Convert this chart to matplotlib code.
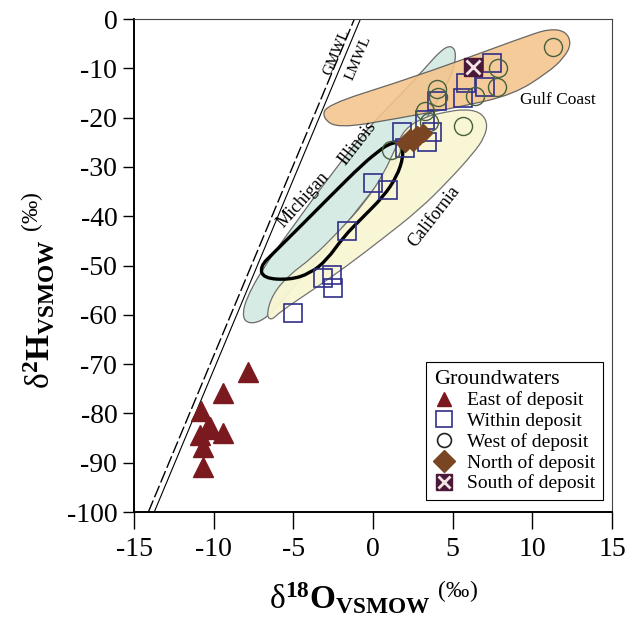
import numpy as np
import matplotlib.pyplot as plt
from matplotlib.path import Path
from matplotlib.patches import PathPatch
from matplotlib.lines import Line2D

plt.rcParams['font.family'] = 'Liberation Serif'
plt.rcParams['mathtext.fontset'] = 'custom'
plt.rcParams['mathtext.rm'] = 'Liberation Serif'
plt.rcParams['mathtext.it'] = 'Liberation Serif:italic'
plt.rcParams['mathtext.bf'] = 'Liberation Serif:bold'
plt.rcParams['axes.unicode_minus'] = False

# groundwater samples: d18O, d2H (permil VSMOW)
east_d18o = [-7.86, -9.39, -10.79, -10.40, -10.86, -9.39, -10.69, -10.65, -10.23]
east_d2h = [-71.5, -75.9, -79.5, -83.2, -84.4, -84.0, -86.8, -90.8, -82.7]

within_d18o = [7.45, 5.84, 7.03, 5.67, 4.04, 3.27, 3.69, 1.80, 2.01, 3.37,
               0.02, 0.96, -1.65, -3.12, -2.59, -2.49, -5.00]
within_d2h = [-9.0, -13.0, -13.7, -16.1, -16.6, -20.5, -22.9, -22.9, -26.2, -24.9,
              -33.2, -34.7, -42.9, -52.6, -51.9, -54.6, -59.7]

west_d18o = [11.32, 7.87, 7.77, 6.41, 4.00, 4.10, 3.27, 3.54, 5.67, 1.11]
west_d2h = [-5.6, -10.0, -13.7, -15.6, -14.1, -15.8, -18.6, -20.8, -21.8, -26.6]

north_d18o = [2.01, 2.33, 2.77, 3.14, 2.52]
north_d2h = [-25.2, -24.1, -23.5, -23.1, -24.9]

south_d18o = [6.26]
south_d2h = [-9.7]

# meteoric water lines, end points on the plot frame
gmwl_d18o = [-14.10, -1.17]
gmwl_d2h = [-100, 0]
lmwl_d18o = [-13.73, -0.79]
lmwl_d2h = [-100, 0]

# outlines of the regional groundwater fields
gulf_d18o = [-3.2, -2.9, 1.49, 5.67, 9.86, 11.11, 12.1, 12.45, 12.0, 11.0,
             8.81, 5.65, 1.49, -2.2]
gulf_d2h = [-20.0, -17.4, -12.9, -8.2, -3.2, -2.0, -2.5, -5.0, -7.8, -10.8,
            -15.3, -17.7, -20.2, -22.2]

illinois_d18o = [-8.2, -8.0, -7.0, -5.3, -2.8, -0.3, 1.6, 3.2, 4.3, 4.95,
                 5.25, 4.9, 3.7, 2.0, -0.5, -3.0, -4.9, -6.2, -7.0, -7.8]
illinois_d2h = [-60.5, -57.0, -51.0, -43.3, -32.2, -22.0, -15.8, -10.2, -6.2, -5.3,
                -7.2, -11.8, -18.5, -26.6, -36.7, -46.9, -54.0, -59.0, -61.3, -61.8]

california_d18o = [-6.7, -6.3, -5.3, -3.8, -2.1, -0.5, 0.7, 1.4, 2.0, 3.27,
                   4.52, 5.65, 6.7, 7.2, 7.0, 6.3, 4.8, 2.9, 0.5, -1.6,
                   -3.8, -5.8, -6.4]
california_d2h = [-60.0, -55.8, -52.0, -48.4, -42.9, -37.2, -31.2, -26.2, -22.2, -19.8,
                  -18.9, -18.3, -18.8, -21.0, -24.0, -27.2, -32.6, -38.7, -44.8, -50.0,
                  -55.0, -59.3, -61.2]

michigan_d18o = [0.86, 1.49, 1.80, 1.91, 1.49, 0.65, -0.61, -1.86, -2.90, -3.95,
                 -5.21, -6.88, -7.09, -6.26, -4.79, -2.70, -0.61, 0.44]
michigan_d2h = [-25.6, -24.9, -25.6, -27.9, -32.0, -36.0, -40.1, -44.2, -48.9, -51.6,
                -52.9, -52.6, -50.2, -47.5, -42.8, -36.0, -29.3, -26.6]


def smooth_outline(xs, ys):
    # closed quadratic bezier through the midpoints of the traced outline
    pts = np.column_stack([xs, ys])
    mids = (pts + np.roll(pts, -1, axis=0)) / 2
    verts = [mids[-1]]
    codes = [Path.MOVETO]
    for i in range(len(pts)):
        verts += [pts[i], mids[i]]
        codes += [Path.CURVE3, Path.CURVE3]
    return Path(verts, codes)


fig = plt.figure(figsize=(6.37, 6.26), dpi=100)
ax = fig.add_axes([0.2104, 0.1821, 0.7504, 0.7875])

ax.add_patch(PathPatch(smooth_outline(illinois_d18o, illinois_d2h),
                       facecolor='#d5ebe4', edgecolor='#6b6b6b', lw=0.9, zorder=1))
ax.add_patch(PathPatch(smooth_outline(california_d18o, california_d2h),
                       facecolor='#f8f6d3', edgecolor='#6b6b6b', lw=0.9, alpha=0.95, zorder=1.1))
ax.add_patch(PathPatch(smooth_outline(gulf_d18o, gulf_d2h),
                       facecolor='#f4c48c', edgecolor='#555555', lw=0.9, alpha=0.88, zorder=1.2))
ax.add_patch(PathPatch(smooth_outline(michigan_d18o, michigan_d2h),
                       facecolor='none', edgecolor='black', lw=2.4, zorder=1.3))

ax.plot(gmwl_d18o, gmwl_d2h, color='black', lw=1.0, ls=(0, (9, 2.5)), zorder=1.5)
ax.plot(lmwl_d18o, lmwl_d2h, color='black', lw=0.8, zorder=1.5)

ax.text(-2.3, -6.8, 'GMWL', rotation=67, fontsize=11, ha='center', va='center')
ax.text(-0.9, -8.0, 'LMWL', rotation=67, fontsize=11, ha='center', va='center')
ax.text(9.2, -16.4, 'Gulf Coast', fontsize=12.5, ha='left', va='center')
ax.text(-1.0, -25.2, 'Illinois', rotation=52, fontsize=13, ha='center', va='center')
ax.text(-4.4, -36.7, 'Michigan', rotation=48, fontsize=13, ha='center', va='center')
ax.text(3.8, -40.1, 'California', rotation=52, fontsize=13, ha='center', va='center')

ax.plot(within_d18o, within_d2h, ls='none', marker='s', ms=13.5, mfc='none',
        mec='#2f2f8a', mew=1.2, zorder=3)
ax.plot(west_d18o, west_d2h, ls='none', marker='o', ms=13, mfc='none',
        mec='#46603e', mew=1.0, zorder=3)
ax.plot(north_d18o, north_d2h, ls='none', marker='D', ms=9, color='#7a4522',
        mec='#7a4522', zorder=4)
ax.plot(south_d18o, south_d2h, ls='none', marker='s', ms=13, color='#4a1838', zorder=4)
ax.plot(south_d18o, south_d2h, ls='none', marker='x', ms=10, mew=2, color='#f2e4e4', zorder=4.1)
ax.plot(east_d18o, east_d2h, ls='none', marker='^', ms=14, color='#7a1a1f', zorder=4)

ax.set_xlim(-15, 15)
ax.set_ylim(-100, 0)
ax.set_xticks(np.arange(-15, 16, 5))
ax.set_yticks(np.arange(-100, 1, 10))
ax.tick_params(direction='out', width=1, labelsize=20, top=False, right=False)
ax.tick_params(axis='x', length=12, pad=6)
ax.tick_params(axis='y', length=8, pad=4)
for side in ['left', 'bottom']:
    ax.spines[side].set_linewidth(1.4)
for side in ['top', 'right']:
    ax.spines[side].set_linewidth(0.8)
    ax.spines[side].set_color('#444444')

ax.set_xlabel(r'$\mathrm{δ}^{\mathbf{18}}\mathbf{O}_{\mathbf{VSMOW}}\ ^{\mathrm{(‰)}}$', fontsize=24)
ax.set_ylabel(r'$\mathrm{δ}^{\mathbf{2}}\mathbf{H}_{\mathbf{VSMOW}}\ ^{\mathrm{(‰)}}$', fontsize=24)
ax.xaxis.set_label_coords(0.5, -0.138)
ax.yaxis.set_label_coords(-0.16, 0.45)

handles = [
    Line2D([], [], ls='none', marker='^', ms=10, color='#7a1a1f'),
    Line2D([], [], ls='none', marker='s', ms=11, mfc='none', mec='#2f2f8a', mew=1.2),
    Line2D([], [], ls='none', marker='o', ms=10, mfc='none', mec='#222222', mew=1.2),
    Line2D([], [], ls='none', marker='D', ms=11, color='#7a4522'),
    (Line2D([], [], ls='none', marker='s', ms=12, color='#4a1838'),
     Line2D([], [], ls='none', marker='x', ms=9, mew=2, color='#f2e4e4')),
]
labels = ['East of deposit', 'Within deposit', 'West of deposit',
          'North of deposit', 'South of deposit']
leg = ax.legend(handles, labels, title='Groundwaters', loc='lower right',
                bbox_to_anchor=(0.981, 0.024), borderaxespad=0, fontsize=14,
                title_fontsize=16, frameon=True, fancybox=False, framealpha=1,
                edgecolor='black', handlelength=1.0, handletextpad=0.7,
                labelspacing=0.15, borderpad=0.4, alignment='left')
leg.get_frame().set_linewidth(0.8)

fig.savefig('out.png', dpi=100)
